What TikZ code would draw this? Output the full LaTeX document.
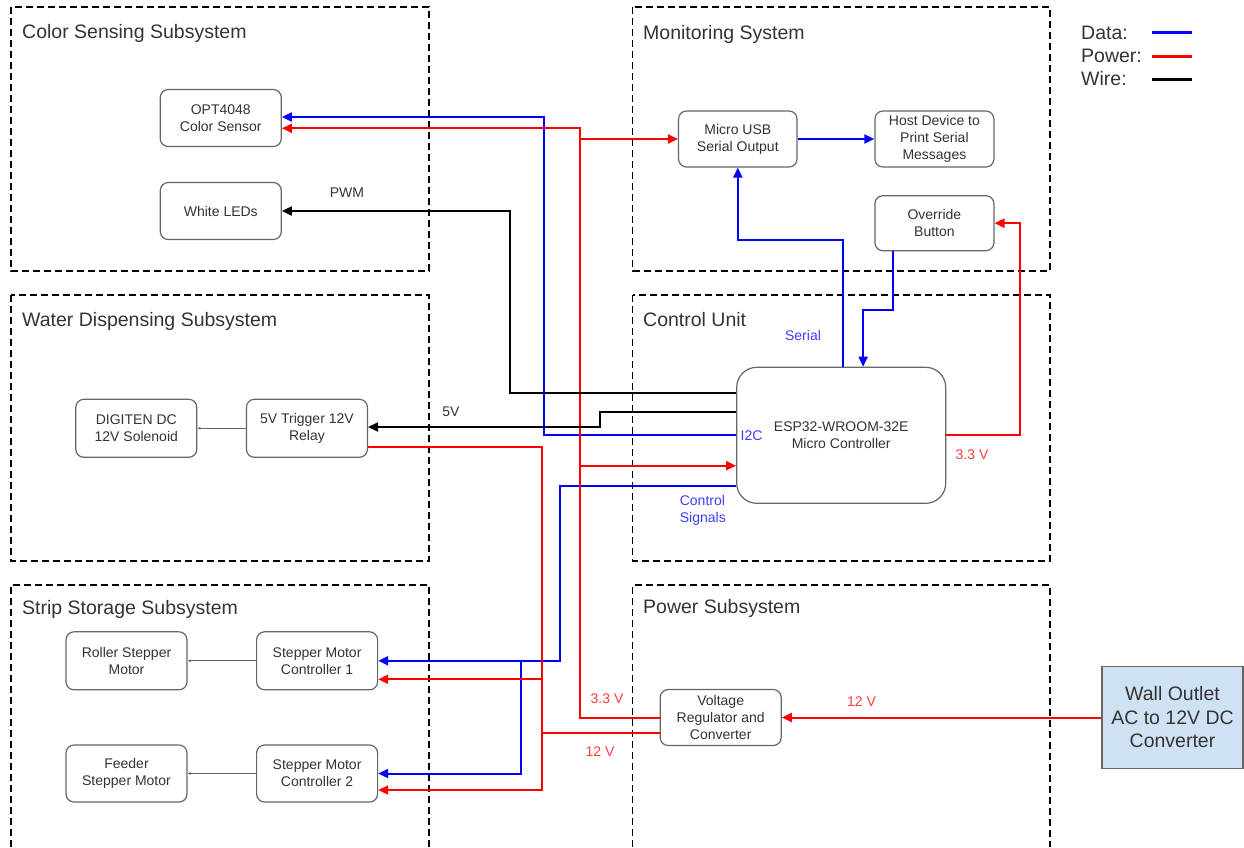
\documentclass[tikz,border=0pt]{standalone}
\usepackage{fontspec}
\setmainfont{Liberation Sans}
\usepackage{xcolor}
\usetikzlibrary{arrows.meta, positioning}
\definecolor{datablue}{RGB}{0,0,255}
\definecolor{powerred}{RGB}{255,0,0}
\definecolor{boxgray}{RGB}{102,102,102}
\definecolor{textgray}{RGB}{51,51,51}
\definecolor{labelblue}{RGB}{60,60,255}
\definecolor{labelred}{RGB}{255,60,60}
\definecolor{outletblue}{RGB}{207,226,243}

\begin{document}
\begin{tikzpicture}[
    x=1pt, y=-1pt,
    block/.style={rectangle, rounded corners=8pt, draw=boxgray, line width=1.2pt, fill=white, minimum width=121pt, minimum height=57pt, inner sep=1pt, align=center, text=textgray, font=\fontsize{14}{17}\selectfont},
    region/.style={draw=black, line width=1.5pt, dash pattern=on 7pt off 4pt},
    regiontitle/.style={anchor=base west, inner sep=0pt, text=textgray, font=\fontsize{19.5}{23}\selectfont},
    data/.style={draw=datablue, line width=2pt},
    power/.style={draw=powerred, line width=2pt},
    wire/.style={draw=black, line width=2pt},
    link/.style={draw=boxgray, line width=1pt, -{Latex[length=3pt,width=3pt]}},
    arrowed/.style={-{Triangle[length=10pt,width=9pt]}},
    lbl/.style={inner sep=0pt, text=textgray, font=\fontsize{14}{17}\selectfont}
]
    \useasboundingbox (0,0) rectangle (1244,847);

    % Subsystem frames
    \draw [region] (11,7) rectangle (429,271);
    \draw [region] (632.7,7) rectangle (1050,271);
    \draw [region] (11,295) rectangle (429,561);
    \draw [region] (632.7,295) rectangle (1050,561);
    \draw [region] (11,847) -- (11,585) -- (429,585) -- (429,847);
    \draw [region] (632.7,847) -- (632.7,585) -- (1050,585) -- (1050,847);

    \node (tColor) [regiontitle] at (22,38.7) {Color Sensing Subsystem};
    \node (tMon) [regiontitle] at (643,39) {Monitoring System};
    \node (tWater) [regiontitle] at (22,326) {Water Dispensing Subsystem};
    \node (tCtrl) [regiontitle] at (643,326) {Control Unit};
    \node (tStrip) [regiontitle] at (22,614) {Strip Storage Subsystem};
    \node (tPower) [regiontitle] at (643,613.7) {Power Subsystem};

    % Legend
    \node (keyData) [regiontitle] at (1081,39) {Data:};
    \node (keyPower) [regiontitle] at (1081,62) {Power:};
    \node (keyWire) [regiontitle] at (1081,85) {Wire:};
    \draw [data, line width=3pt] (1152,32.7) -- (1192,32.7);
    \draw [power, line width=3pt] (1152,56.7) -- (1192,56.7);
    \draw [wire, line width=3pt] (1152,79) -- (1192,79);

    % Blocks
    \node (opt) [block] at (220.8,118) {OPT4048\\Color Sensor};
    \node (leds) [block] at (220.8,211) {White LEDs};
    \node (usb) [block, minimum width=118.5pt, minimum height=56pt] at (737.8,139) {Micro USB\\Serial Output};
    \node (host) [block, minimum width=119pt, minimum height=56pt] at (934.4,139) {Host Device to\\Print Serial\\Messages};
    \node (override) [block, minimum width=119pt, minimum height=55pt] at (934.4,223.2) {Override\\Button};
    \node (esp) [block, minimum width=209pt, minimum height=136pt, rounded corners=20pt] at (841.2,435.3) {ESP32-WROOM-32E\\Micro Controller};
    \node (solenoid) [block, minimum height=58pt] at (136.3,428.3) {DIGITEN DC\\12V Solenoid};
    \node (relay) [block, minimum height=58pt] at (306.9,428.3) {5V Trigger 12V\\Relay};
    \node (roller) [block, minimum height=58pt] at (126.5,660.8) {Roller Stepper\\Motor};
    \node (ctrlA) [block, minimum height=58pt] at (317.1,660.8) {Stepper Motor\\Controller 1};
    \node (feeder) [block] at (126.5,773.5) {Feeder\\Stepper Motor};
    \node (ctrlB) [block] at (317.1,773.5) {Stepper Motor\\Controller 2};
    \node (reg) [block, minimum height=56pt] at (720.7,717.5) {Voltage\\Regulator and\\Converter};
    \node (wall) [block, rounded corners=0pt, fill=outletblue, minimum width=141pt, minimum height=102pt, font=\fontsize{19.5}{23.5}\selectfont] at (1172.5,717.5) {Wall Outlet\\AC to 12V DC\\Converter};

    % Bus positions and ports
    \coordinate (busI2C) at (543.5,0);
    \coordinate (bus33) at (580,0);
    \coordinate (bus12) at (542,0);
    \coordinate (busCtl) at (560,0);
    \coordinate (busCtlB) at (520.5,0);
    \coordinate (busPWM) at (510,0);
    \coordinate (bus5V) at (600,0);
    \coordinate (espPWM) at ([yshift=42pt]esp.west);
    \coordinate (esp5V) at ([yshift=23.6pt]esp.west);
    \coordinate (esp33) at ([yshift=-30.4pt]esp.west);
    \coordinate (espCtl) at ([yshift=-50.4pt]esp.west);
    \coordinate (optI2C) at ([yshift=1pt]opt.east);
    \coordinate (opt33) at ([yshift=-10.3pt]opt.east);
    \coordinate (relay5V) at ([yshift=1.3pt]relay.east);
    \coordinate (relay12) at ([yshift=-19pt]relay.east);
    \coordinate (ctrlA12) at ([yshift=-18.5pt]ctrlA.east);
    \coordinate (ctrlB12) at ([yshift=-16.5pt]ctrlB.east);
    \coordinate (reg12) at ([yshift=-15.8pt]reg.west);

    % Data lines
    \draw [data, arrowed] (esp.west) -| (busI2C |- optI2C) -- (optI2C);
    \draw [data, arrowed] ([xshift=2pt]esp.north) -- ++(0,-126.6) -| (usb.south);
    \draw [data, arrowed] (usb) -- (host);
    \draw [data, arrowed] ([xshift=-41pt]override.south) -- ++(0,58.3) -| ([xshift=21.9pt]esp.north);
    \draw [data, arrowed] (espCtl) -| (busCtl |- ctrlA.east) -- (ctrlA.east);
    \draw [data, arrowed] (busCtlB |- ctrlA.east) |- (ctrlB.east);

    % Power lines
    \draw [power, arrowed] (wall.west) -- (reg.east);
    \draw [power, arrowed] (reg.west) -| (bus33 |- opt33) -- (opt33);
    \draw [power, arrowed] (bus33 |- usb.west) -- (usb.west);
    \draw [power, arrowed] (bus33 |- esp33) -- (esp33);
    \draw [power] (reg12) -| (bus12 |- relay12) -- (relay12);
    \draw [power, arrowed] (bus12 |- reg12) |- (ctrlB12);
    \draw [power, arrowed] (bus12 |- ctrlA12) -- (ctrlA12);
    \draw [power, arrowed] (esp.east) -- ++(74,0) |- (override.east);

    % Wires
    \draw [wire, arrowed] (espPWM) -| (busPWM |- leds.east) -- (leds.east);
    \draw [wire, arrowed] (esp5V) -| (bus5V |- relay5V) -- (relay5V);
    \draw [link] (relay) -- (solenoid);
    \draw [link] (ctrlA) -- (roller);
    \draw [link] (ctrlB) -- (feeder);

    % Line labels
    \node (lblPWM) [lbl] at (347,192.7) {PWM};
    \node (lbl5V) [lbl] at (451,412) {5V};
    \node (lblSerial) [lbl, text=labelblue] at (803,335) {Serial};
    \node (lblI2C) [lbl, text=labelblue] at (751.5,435.7) {I2C};
    \node (lblCtl) [lbl, text=labelblue, align=left] at (702.8,510) {Control\\Signals};
    \node (lblEsp33) [lbl, text=labelred] at (972,455) {3.3 V};
    \node (lblBus33) [lbl, text=labelred] at (607,699) {3.3 V};
    \node (lblBus12) [lbl, text=labelred] at (600,752) {12 V};
    \node (lblWall12) [lbl, text=labelred] at (861.5,702) {12 V};

\end{tikzpicture}
\end{document}
